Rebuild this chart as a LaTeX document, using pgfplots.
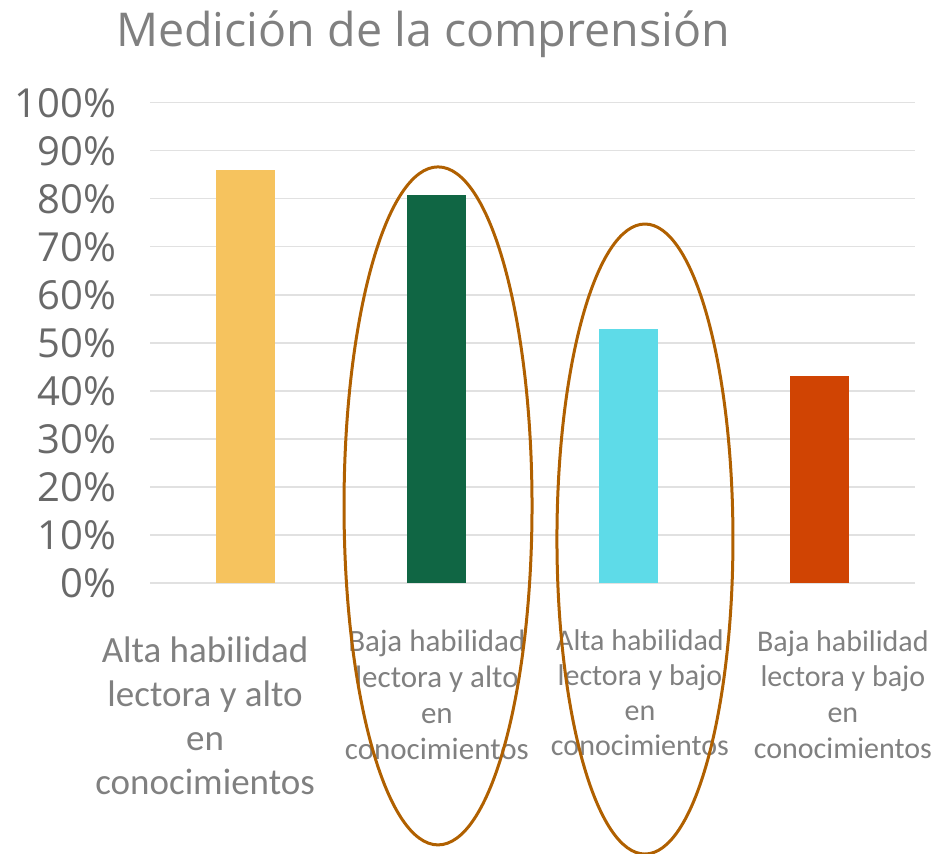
\documentclass[border=0pt]{standalone}
\usepackage{pgfplots}
\pgfplotsset{compat=1.18}
\usepackage{fontspec}
\setmainfont{Carlito}
\newfontfamily\osans{Open Sans}
\definecolor{cyel}{RGB}{246,195,94}
\definecolor{cgrn}{RGB}{16,102,68}
\definecolor{ccya}{RGB}{94,219,232}
\definecolor{cred}{RGB}{208,68,3}
\definecolor{cbrown}{RGB}{176,96,0}
\definecolor{tickgray}{RGB}{105,105,105}
\definecolor{labgray}{RGB}{128,128,128}
\definecolor{gridgray}{RGB}{225,225,225}
\begin{document}
\begin{tikzpicture}
\path[use as bounding box] (0,0) rectangle (467.5pt,-427pt);
\begin{axis}[
  at={(75pt,-291.35pt)}, anchor=south west,
  scale only axis, width=382.5pt, height=240pt,
  xmin=-0.5, xmax=3.5, ymin=0, ymax=100,
  clip=false,
  axis line style={draw=none},
  xtick=\empty,
  ytick={0,10,...,100},
  yticklabel={\pgfmathprintnumber{\tick}\%},
  /pgf/number format/assume math mode=true,
  yticklabel style={font=\osans\fontsize{20}{22}\selectfont, text=tickgray, xshift=-13.5pt},
  major tick length=0pt,
  ymajorgrids, major grid style={gridgray, line width=0.8pt},
  ybar, bar width=29.5pt, bar shift=0pt,
]
\addplot[fill=cyel, draw=none] coordinates {(0,86)};
\addplot[fill=cgrn, draw=none] coordinates {(1,80.8)};
\addplot[fill=ccya, draw=none] coordinates {(2,52.8)};
\addplot[fill=cred, draw=none] coordinates {(3,43)};
\node[anchor=north, align=center, inner sep=0pt, text=labgray, font=\fontsize{18.5}{22}\selectfont] at (axis cs:-0.212,-11.1) {Alta habilidad\\lectora y alto\\en\\conocimientos};
\node[anchor=north, align=center, inner sep=0pt, text=labgray, font=\fontsize{15.5}{18}\selectfont] at (axis cs:1.0,-9.85) {Baja habilidad\\lectora y alto\\en\\conocimientos};
\node[anchor=north, align=center, inner sep=0pt, text=labgray, font=\fontsize{15}{17.5}\selectfont] at (axis cs:2.062,-9.6) {Alta habilidad\\lectora y bajo\\en\\conocimientos};
\node[anchor=north, align=center, inner sep=0pt, text=labgray, font=\fontsize{15}{17.8}\selectfont] at (axis cs:3.123,-9.85) {Baja habilidad\\lectora y bajo\\en\\conocimientos};
\draw[cbrown, line width=1.5pt] (axis cs:1.006,16) ellipse [x radius=47pt, y radius=169.5pt];
\draw[cbrown, line width=1.5pt] (axis cs:2.088,9.1) ellipse [x radius=44pt, y radius=157.5pt];
\end{axis}
\node[font=\osans\fontsize{23.3}{27}\selectfont, text=labgray] at (211.5pt,-17pt) {Medición de la comprensión};
\end{tikzpicture}
\end{document}
